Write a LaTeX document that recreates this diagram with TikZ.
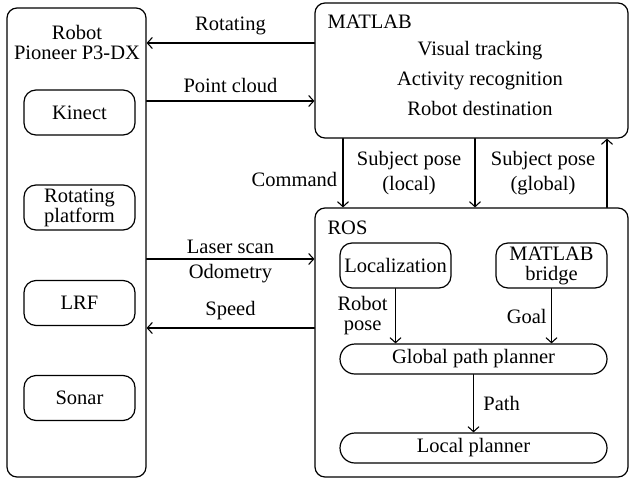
\documentclass[tikz,border=0pt]{standalone}
\usepackage{fontspec}
\setmainfont{Liberation Serif}
\usetikzlibrary{arrows.meta}

\begin{document}
\begin{tikzpicture}[x=1pt, y=-1pt, line join=round, line cap=round,
    font=\fontsize{20.5}{20}\selectfont,
    >={Straight Barb[length=5pt,width=11pt]},
    block/.style={draw, line width=1.2pt, rounded corners=10pt, inner sep=0pt},
    unit/.style={block, rounded corners=12pt, minimum width=111pt, minimum height=45pt, align=center},
    planner/.style={block, rounded corners=15pt, minimum width=267pt, minimum height=30pt},
    link/.style={->, line width=1.1pt}]
  \useasboundingbox (0,0) rectangle (631,479);
  % robot
  \node[block, minimum width=139pt, minimum height=469pt] (robot) at (76.5,242.5) {};
  \node[align=center] (robottitle) at (77,42) {Robot\\Pioneer P3-DX};
  \node[unit] (kinect) at (79.5,112.5) {Kinect};
  \node[unit] (platform) at (79.5,207.5) {Rotating\\platform};
  \node[unit] (lrf) at (79.5,303) {LRF};
  \node[unit] (sonar) at (79.5,398) {Sonar};
  % matlab
  \node[block, minimum width=313pt, minimum height=135pt] (matlab) at (471.5,70.5) {};
  \node[anchor=west] (matlabtitle) at (324,22) {MATLAB};
  \node[align=center] (tasks) at (480,78) {Visual tracking\\[10pt]Activity recognition\\[10pt]Robot destination};
  % ros
  \node[block, minimum width=313pt, minimum height=269pt] (ros) at (471.5,342.5) {};
  \node[anchor=west] (rostitle) at (324,228) {ROS};
  \node[unit] (localization) at (395.5,265.5) {Localization};
  \node[unit] (bridge) at (551.5,265.5) {MATLAB\\bridge};
  \node[planner] (global) at (473.5,359) {Global path planner};
  \node[planner] (localplanner) at (473.5,448) {Local planner};

  % arrow heights and columns
  \coordinate (rot) at (0,43);
  \coordinate (cloud) at (0,101);
  \coordinate (scan) at (0,259);
  \coordinate (speed) at (0,328);
  \coordinate (cmd) at (343,0);
  \coordinate (poselocal) at (475,0);
  \coordinate (poseglobal) at (607,0);

  % robot <-> matlab
  \draw[link] (matlab.west |- rot) -- (robot.east |- rot) node[midway, above=4pt] {Rotating};
  \draw[link] (robot.east |- cloud) -- (matlab.west |- cloud) node[midway, above=4pt] {Point cloud};
  % robot <-> ros
  \draw[link] (robot.east |- scan) -- (ros.west |- scan)
    node[midway, above=1pt] {Laser scan} node[midway, below=1pt] {Odometry};
  \draw[link] (ros.west |- speed) -- (robot.east |- speed) node[midway, above=4pt] {Speed};
  % matlab <-> ros
  \draw[link] (matlab.south -| cmd) -- (ros.north -| cmd) node[pos=0.6, left=2pt] {Command};
  \draw[link] (matlab.south -| poselocal) -- (ros.north -| poselocal)
    node[midway, left=10pt, align=center] {Subject pose\\[5pt](local)};
  \draw[link] (ros.north -| poseglobal) -- (matlab.south -| poseglobal)
    node[midway, left=8pt, align=center] {Subject pose\\[5pt](global)};
  % inside ros
  \draw[link] (localization) -- (localization |- global.north)
    node[midway, left=4pt, align=center] {Robot\\pose};
  \draw[link] (bridge) -- (bridge |- global.north) node[midway, left=1pt] {Goal};
  \draw[link] (global) -- (localplanner) node[midway, right=6pt] {Path};
\end{tikzpicture}
\end{document}
